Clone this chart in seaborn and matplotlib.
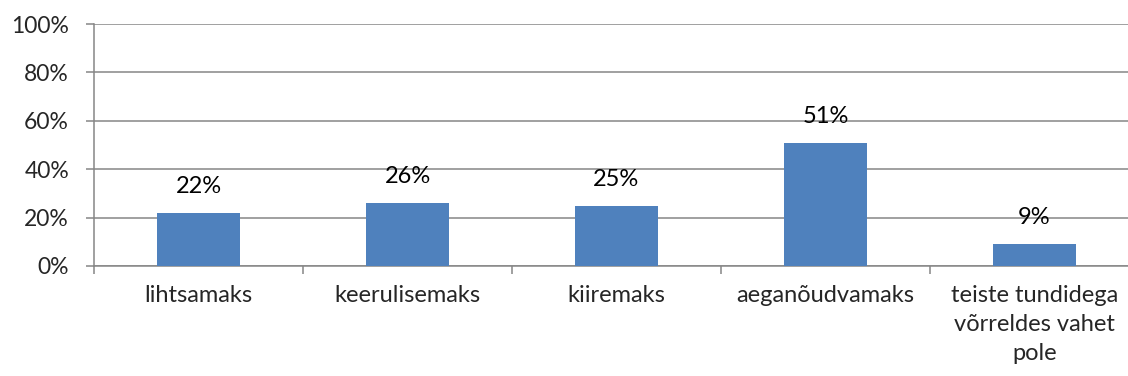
import matplotlib
matplotlib.use("Agg")
import matplotlib.pyplot as plt
import seaborn as sns
import pandas as pd
from matplotlib.ticker import FixedLocator, PercentFormatter

categories = ["lihtsamaks", "keerulisemaks", "kiiremaks", "aeganõudvamaks",
              "teiste tundidega\nvõrreldes vahet\npole"]
values = [22, 26, 25, 51, 9]
y_ticks = [0, 20, 40, 60, 80, 100]

sns.set_theme(style="white")
plt.rcParams["font.family"] = ["Lato", "DejaVu Sans"]

df = pd.DataFrame({"kategooria": categories, "osakaal": values})

fig = plt.figure(figsize=(11.28, 3.76), dpi=100)
ax = fig.add_axes([94 / 1128, 1 - 266 / 376, 1045 / 1128, 242 / 376])

grid_color = "#868686"
sns.barplot(data=df, x="kategooria", y="osakaal", color="#4F81BD",
            width=0.4, saturation=1, ax=ax, zorder=3, linewidth=0)

ax.set_xlim(-0.5, len(categories) - 0.5)
ax.set_ylim(0, 100)
ax.set_yticks(y_ticks)
ax.yaxis.set_major_formatter(PercentFormatter(decimals=0))
ax.yaxis.grid(True, color=grid_color, linewidth=1.1, zorder=0)
ax.set_axisbelow(True)

for side in ["top", "right"]:
    ax.spines[side].set_visible(False)
for side in ["left", "bottom"]:
    ax.spines[side].set_color(grid_color)
    ax.spines[side].set_linewidth(1.1)

ax.set_xlabel("")
ax.set_ylabel("")
ax.tick_params(axis="y", which="major", length=6, width=1.1, color=grid_color,
               direction="out", labelsize=16.5, pad=12, left=True)
ax.tick_params(axis="x", which="major", length=0, labelsize=17, pad=14)
ax.xaxis.set_minor_locator(FixedLocator([i + 0.5 for i in range(-1, len(categories))]))
ax.tick_params(axis="x", which="minor", length=6, width=1.1, color=grid_color,
               direction="out", bottom=True)
for lbl in ax.get_xticklabels():
    lbl.set_linespacing(1.45)

for i, v in enumerate(values):
    ax.annotate(f"{v}%", xy=(i, v), xytext=(0, 19), textcoords="offset points",
                ha="center", va="center", fontsize=17, color="black", zorder=4)

fig.savefig("out.png", dpi=100)
